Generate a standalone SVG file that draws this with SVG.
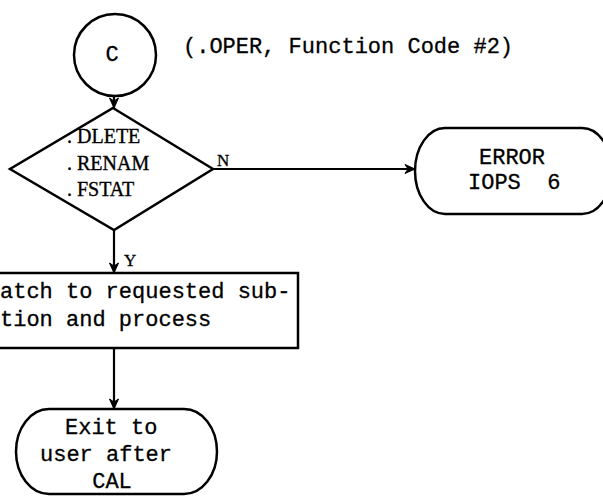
<svg xmlns="http://www.w3.org/2000/svg" width="603" height="496" viewBox="0 0 603 496">
<defs>
<style>
.shape{fill:none;stroke:#000;stroke-width:2.5}
.conn{fill:none;stroke:#000;stroke-width:2.2}
.tw{font-family:"Liberation Mono","Courier New",monospace;font-size:22px;fill:#000;stroke:#000;stroke-width:0.3}
.sf{font-family:"Liberation Serif","Times New Roman",serif;font-size:20px;fill:#000;stroke:#000;stroke-width:0.35}
.lbl{font-family:"Liberation Serif","Times New Roman",serif;font-size:17px;fill:#000;stroke:#000;stroke-width:0.3}
</style>
<marker id="arr" markerWidth="12" markerHeight="12" viewBox="0 0 12 12" refX="11" refY="6" orient="auto" markerUnits="userSpaceOnUse">
<path d="M1,1.5 L11,6 L1,10.5 L4,6 Z" fill="#000" stroke="#000" stroke-width="1"/>
</marker>
</defs>
<rect width="603" height="496" fill="#fff"/>
<g id="connectors">
<line class="conn" x1="114" y1="96" x2="114" y2="108" marker-end="url(#arr)"/>
<line class="conn" x1="213" y1="169" x2="415" y2="169" marker-end="url(#arr)"/>
<line class="conn" x1="114" y1="230" x2="114" y2="273" marker-end="url(#arr)"/>
<line class="conn" x1="114" y1="348" x2="114" y2="409" marker-end="url(#arr)"/>
<text class="lbl" x="217" y="166">N</text>
<text class="lbl" x="124" y="266">Y</text>
</g>
<g id="start-c">
<circle class="shape" cx="115" cy="55" r="41"/>
<text class="tw" x="112" y="61" text-anchor="middle">C</text>
</g>
<text class="tw" x="183" y="53">(.OPER, Function Code #2)</text>
<g id="decision">
<polygon class="shape" points="113,108 213,169 114,230 10,169"/>
<text class="sf" x="67" y="143">.<tspan dx="5">DLETE</tspan></text>
<text class="sf" x="67" y="170">.<tspan dx="5">RENAM</tspan></text>
<text class="sf" x="67" y="196">.<tspan dx="5">FSTAT</tspan></text>
</g>
<g id="error">
<rect class="shape" x="415" y="128" width="197" height="86" rx="30" ry="43"/>
<text class="tw" x="512" y="164" text-anchor="middle">ERROR</text>
<text class="tw" x="468" y="189" xml:space="preserve">IOPS  6</text>
</g>
<g id="dispatch">
<rect class="shape" x="-10" y="273" width="308" height="75"/>
<text class="tw" x="0" y="298">atch to requested sub-</text>
<text class="tw" x="0" y="326">tion and process</text>
</g>
<g id="exit">
<rect class="shape" x="16" y="409" width="201" height="85" rx="33" ry="42.5"/>
<text class="tw" x="65" y="434">Exit to</text>
<text class="tw" x="40" y="461">user after</text>
<text class="tw" x="112" y="488" text-anchor="middle">CAL</text>
</g>
</svg>
